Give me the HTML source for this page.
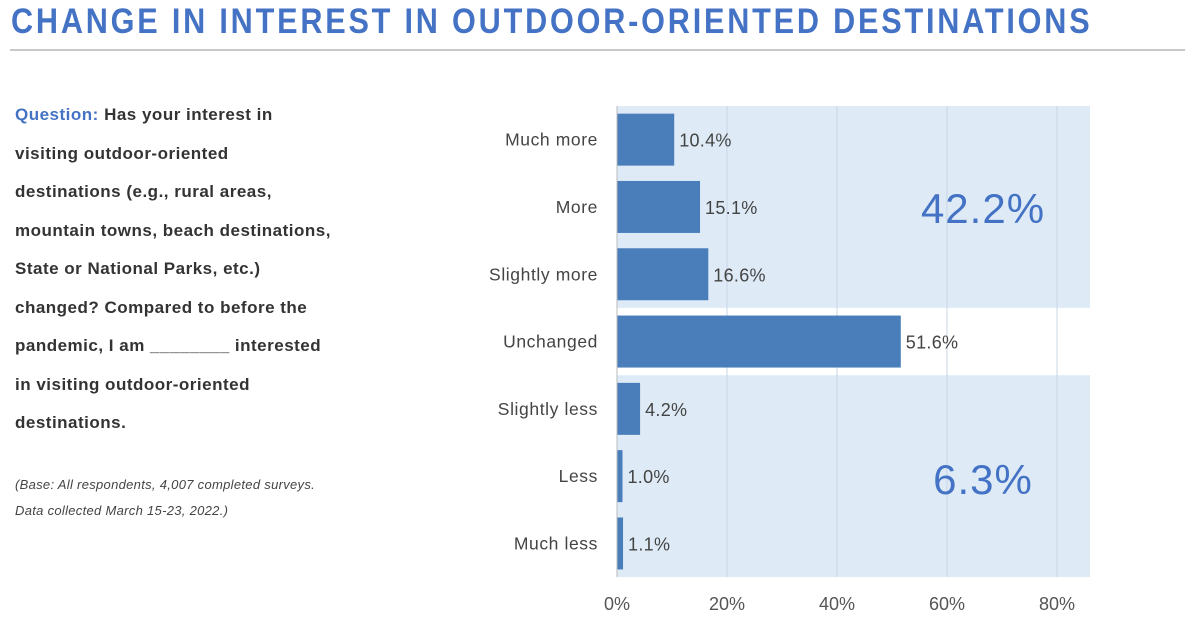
<!DOCTYPE html>
<html><head><meta charset="utf-8"><style>
html,body{margin:0;padding:0;background:#fff;width:1185px;height:617px;overflow:hidden;font-family:"Liberation Sans",sans-serif;}
#title{position:absolute;left:11px;top:2px;font-size:35px;font-weight:bold;color:#4472c4;letter-spacing:3.2px;white-space:nowrap;transform:scaleX(0.875);transform-origin:0 0;}
#rule{position:absolute;left:10px;top:49px;width:1175px;height:2px;background:#c8c8c8;}
#q{position:absolute;left:15px;top:96px;font-size:17px;letter-spacing:0.5px;font-weight:bold;color:#333;line-height:38.5px;white-space:nowrap;}
#q .b{color:#4472c4;}
#base{position:absolute;left:15px;top:472px;font-size:13px;letter-spacing:0.3px;font-style:italic;color:#444;line-height:26px;white-space:nowrap;}
svg{position:absolute;left:0;top:0;}
</style></head><body>
<div id="title">CHANGE IN INTEREST IN OUTDOOR-ORIENTED DESTINATIONS</div>
<div id="rule"></div>
<div id="q"><span class="b">Question:</span> Has your interest in<br>visiting outdoor-oriented<br>destinations (e.g., rural areas,<br>mountain towns, beach destinations,<br>State or National Parks, etc.)<br>changed? Compared to before the<br>pandemic, I am ________ interested<br>in visiting outdoor-oriented<br>destinations.</div>
<div id="base">(Base: All respondents, 4,007 completed surveys.<br>Data collected March 15-23, 2022.)</div>
<svg id="chart" width="1185" height="617"></svg>
<script>
const categories=["Much more","More","Slightly more","Unchanged","Slightly less","Less","Much less"];
const values=[10.4,15.1,16.6,51.6,4.2,1.0,1.1];
const ticks=[0,20,40,60,80];
const groupTotals=["42.2%","6.3%"];
const NS="http://www.w3.org/2000/svg";
const svg=document.getElementById("chart");
const x0=617,pxPer=5.5,top0=106,step=67.3,barH=52,right=1090;
const xs=v=>x0+v*pxPer;
const ys=i=>top0+i*step;
function mk(t,a){const e=document.createElementNS(NS,t);for(const k in a)e.setAttribute(k,a[k]);svg.appendChild(e);return e;}
let r=mk("rect",{x:x0,y:ys(0),width:right-x0,height:step*3,fill:"#deebf7"});


r=mk("rect",{x:x0,y:ys(4),width:right-x0,height:step*3,fill:"#deebf7"});


ticks.forEach(t=>{
  if(t>0){const g=mk("line",{x1:xs(t),x2:xs(t),y1:ys(0),y2:ys(7),stroke:"#c9d6e3","stroke-width":1});
  
  }
  const l=mk("text",{x:xs(t),y:610,"text-anchor":"middle","font-size":18,fill:"#555","font-family":"Liberation Sans, sans-serif"});
  l.textContent=t+"%";
  
  
});
categories.forEach((c,i)=>{
  const y=ys(i)+(step-barH)/2;
  const b=mk("rect",{x:x0,y:y,width:values[i]*pxPer,height:barH,fill:"#4a7ebb"});
  
  
  const l=mk("text",{x:598,y:y+barH/2+6,"text-anchor":"end","font-size":17.5,"letter-spacing":"0.6",fill:"#444","font-family":"Liberation Sans, sans-serif"});
  l.textContent=c;
  
  
  const v=mk("text",{x:xs(values[i])+5,y:y+barH/2+7,"font-size":18,"letter-spacing":"0.3",fill:"#444","font-family":"Liberation Sans, sans-serif"});
  v.textContent=values[i].toFixed(1)+"%";
  
  
});
mk("line",{x1:x0,x2:x0,y1:ys(0),y2:ys(7),stroke:"#bbb","stroke-width":1});
[[groupTotals[0],983,223],[groupTotals[1],983,494]].forEach(g=>{
  const t=mk("text",{x:g[1],y:g[2],"text-anchor":"middle","font-size":42,"letter-spacing":"1",fill:"#4472c4","font-family":"Liberation Sans, sans-serif"});
  t.textContent=g[0];
  
  
});
</script>
</body></html>
